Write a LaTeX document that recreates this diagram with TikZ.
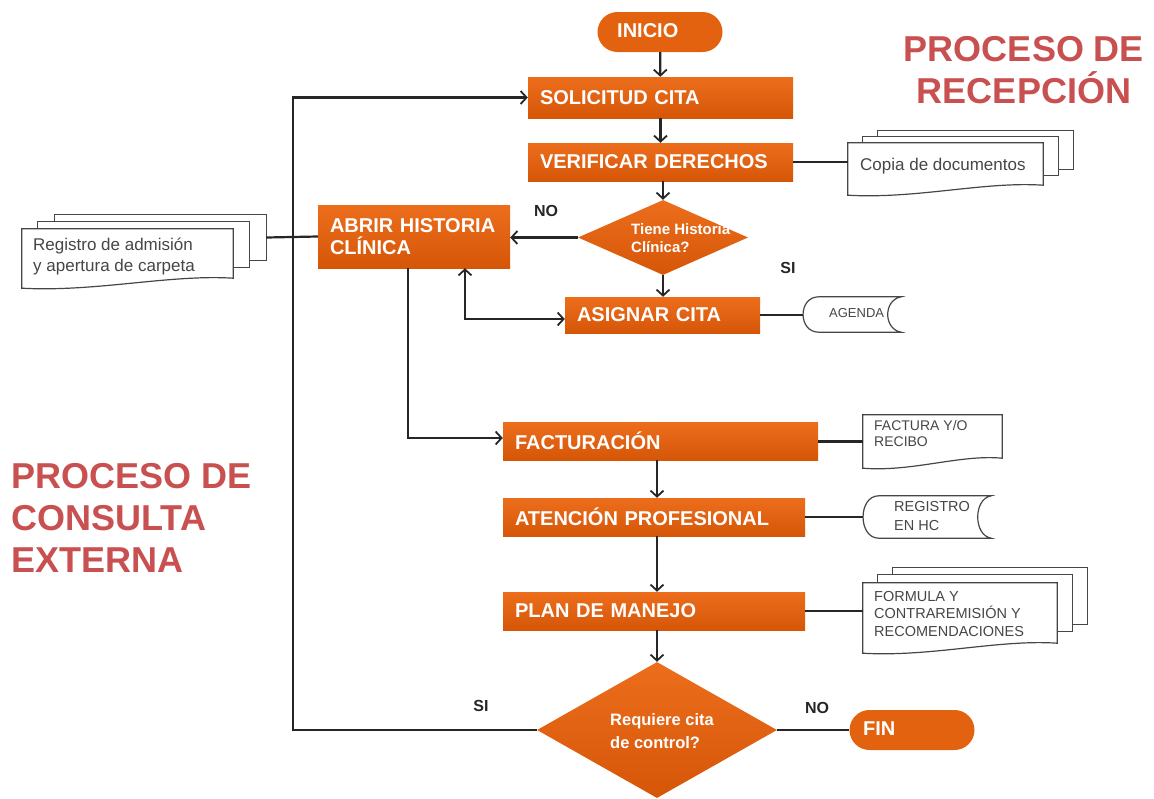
\documentclass[tikz,border=0pt]{standalone}
\usepackage{fontspec}
\setmainfont{Liberation Sans}
\usetikzlibrary{arrows.meta,shapes.geometric,shapes.misc,calc}
\definecolor{orng}{RGB}{226,98,16}
\definecolor{orngT}{RGB}{236,110,28}
\definecolor{orngB}{RGB}{214,86,8}
\definecolor{ttl}{RGB}{200,80,80}
\definecolor{docgray}{RGB}{70,70,70}
\tikzset{
  box/.style={rectangle, top color=orngT, bottom color=orngB, draw=none, text=white, font=\bfseries\fontsize{20}{22}\selectfont, inner xsep=12pt, inner ysep=0pt, align=left, anchor=center},
  term/.style={rounded rectangle, fill=orng, text=white, inner xsep=0pt, inner ysep=0pt, minimum width=125pt, minimum height=40pt},
  dia/.style={diamond, top color=orngT, bottom color=orngB, inner sep=0pt},
  diatext/.style={text=white, font=\bfseries, align=left, inner sep=0pt},
  conn/.style={line width=2.2pt, draw=black!85},
  tip/.tip={Straight Barb[length=6pt,width=13pt,line width=1.8pt]},
  arr/.style={conn, -tip},
  darr/.style={conn, tip-tip},
  docline/.style={draw=docgray, line width=1.2pt, fill=white},
  docarea/.style={rectangle, inner sep=0pt, draw=none},
  doctext/.style={text=docgray, align=left, inner sep=0pt, anchor=north west},
  lbl/.style={font=\bfseries\fontsize{16}{18}\selectfont, text=black!85},
  title/.style={text=ttl, font=\bfseries\fontsize{36}{42}\selectfont}
}
% document outline around node #1 (wavy bottom)
\newcommand\docout[1]{%
  \draw[docline] (#1.south west) -- (#1.north west) -- (#1.north east) -- ([yshift=10pt]#1.south east)
    .. controls ($(#1.south west)!0.7!(#1.south east)+(0pt,14pt)$) and ($(#1.south west)!0.35!(#1.south east)+(0pt,-4pt)$) .. (#1.south west) -- cycle;}
% back sheets of a multi document
\newcommand\docback[3]{%
  \draw[docline] ([xshift=#2pt,yshift=#3pt]#1.north west) rectangle ([xshift=#2pt,yshift=#3pt+14pt]#1.south east);}
% stored data outline
\newcommand\storeout[1]{%
  \draw[docline] ([xshift=16pt]#1.north west) -- ([xshift=6pt]#1.north east)
    .. controls ([xshift=-12pt,yshift=-3pt]#1.north east) and ([xshift=-12pt,yshift=3pt]#1.south east) .. ([xshift=6pt]#1.south east)
    -- ([xshift=16pt]#1.south west)
    .. controls ([xshift=-5pt]#1.south west) and ([xshift=-5pt]#1.north west) .. ([xshift=16pt]#1.north west) -- cycle;}
\begin{document}
\begin{tikzpicture}[x=1pt,y=-1pt]
\useasboundingbox (0,0) rectangle (1154,798);

% titles
\node[title, align=center] (t1) at (1024,70) {PROCESO DE\\RECEPCIÓN};
\node[title, align=left, anchor=west] (t2) at (8,518) {PROCESO DE\\CONSULTA\\EXTERNA};

% main flow nodes
\node[term] (inicio) at (660,32) {};
\node[diatext, anchor=west, font=\bfseries\fontsize{20}{22}\selectfont] (iniciot) at (617,31) {INICIO};
\node[box, minimum width=265pt, minimum height=41pt, text width=241pt] (sol) at (660.5,97.5) {SOLICITUD CITA};
\node[box, minimum width=265pt, minimum height=38pt, text width=241pt] (ver) at (660.5,162) {VERIFICAR DERECHOS};
\node[dia, minimum width=170pt, minimum height=75pt] (d1) at (663,237.5) {};
\node[diatext, anchor=west, font=\bfseries\fontsize{15}{18}\selectfont] (d1t) at (631,238) {Tiene Historia\\Clínica?};
\node[box, minimum width=192pt, minimum height=63pt, text width=168pt] (abrir) at (414,236.5) {ABRIR HISTORIA\\CLÍNICA};
\node[box, minimum width=195pt, minimum height=36pt, text width=171pt] (asig) at (662.5,315) {ASIGNAR CITA};
\node[box, minimum width=315pt, minimum height=38pt, text width=291pt] (fact) at (660.5,441) {FACTURACIÓN};
\node[box, minimum width=302pt, minimum height=38pt, text width=278pt] (aten) at (654,517) {ATENCIÓN PROFESIONAL};
\node[box, minimum width=302pt, minimum height=38pt, text width=278pt] (plan) at (654,611) {PLAN DE MANEJO};
\node[dia, minimum width=240pt, minimum height=136pt] (d2) at (657,730) {};
\node[diatext, anchor=west, font=\bfseries\fontsize{16.5}{23}\selectfont] (d2t) at (610,731) {Requiere cita\\de control?};
\node[term] (fin) at (912,730) {};
\node[diatext, anchor=west, font=\bfseries\fontsize{20}{22}\selectfont] (fint) at (863,729) {FIN};

% documents
\node[docarea, minimum width=195pt, minimum height=52pt] (copia) at (945.5,169) {};
\docback{copia}{30}{12}
\docback{copia}{15}{6}
\docout{copia}
\node[doctext, anchor=west, font=\fontsize{17}{20}\selectfont] (copiat) at (860,166) {Copia de documentos};

\node[docarea, minimum width=211pt, minimum height=59pt] (regadm) at (127.5,258.5) {};
\docback{regadm}{33}{14}
\docback{regadm}{16}{7}
\docout{regadm}
\node[doctext, font=\fontsize{17}{21}\selectfont] (regadmt) at (33,238) {Registro de admisión\\y apertura de carpeta};

\node[docarea, minimum width=92pt, minimum height=35pt] (agenda) at (849,314.5) {};
\storeout{agenda}
\node[doctext, anchor=west, font=\fontsize{13}{15}\selectfont] (agendat) at (829,313) {AGENDA};

\node[docarea, minimum width=139pt, minimum height=53pt] (factura) at (932.5,441.5) {};
\docout{factura}
\node[doctext, font=\fontsize{14}{16}\selectfont] (facturat) at (874,420) {FACTURA Y/O\\RECIBO};

\node[docarea, minimum width=122pt, minimum height=42pt] (reghc) at (924,517) {};
\storeout{reghc}
\node[doctext, font=\fontsize{14.5}{19}\selectfont] (reghct) at (894,501) {REGISTRO\\EN HC};

\node[docarea, minimum width=194pt, minimum height=70pt] (formula) at (960,618) {};
\docback{formula}{30}{15}
\docback{formula}{15}{8}
\docout{formula}
\node[doctext, font=\fontsize{14.5}{17.5}\selectfont] (formulat) at (874,591) {FORMULA Y\\CONTRAREMISIÓN Y\\RECOMENDACIONES};

% labels
\node[lbl] (no1) at (546,211) {NO};
\node[lbl] (si1) at (788,268) {SI};
\node[lbl] (si2) at (481,706) {SI};
\node[lbl] (no2) at (817,708) {NO};

% coordinates
\coordinate (lb) at (293,730);
\coordinate (lt) at (293,97.5);
\coordinate (cA) at (465,319);
\coordinate (cF) at (408,438);

% connectors
\draw[arr] (inicio) -- (sol);
\draw[arr] (sol) -- (ver);
\draw[arr] (ver.south -| d1) -- (d1.north);
\draw[arr] (d1.west) -- (d1.west -| abrir.east);
\draw[arr] (d1.south) -- (d1.south |- asig.north);
\draw[arr] (d2.west) -- (lb) -- (lt) -- (sol.west);
\draw[darr] (abrir.south -| cA) -- (cA) -- (cA -| asig.west);
\draw[arr] (abrir.south -| cF) -- (cF) -- (cF -| fact.west);
\draw[arr] (fact.south -| d2) -- (aten.north -| d2);
\draw[arr] (aten.south -| d2) -- (plan.north -| d2);
\draw[arr] (plan.south -| d2) -- (d2.north);
\draw[conn] (d2.east) -- (fin.west);
\draw[conn] (ver.east) -- (ver.east -| copia.west);
\draw[conn] ([xshift=33pt,yshift=-1pt]regadm.east |- abrir.west) -- (abrir.west);
\draw[conn] (asig.east) -- (asig.east -| agenda.west);
\draw[conn] (fact.east |- factura.west) -- (factura.west);
\draw[conn] (aten.east) -- (aten.east -| reghc.west);
\draw[conn] (plan.east) -- (plan.east -| formula.west);
\end{tikzpicture}
\end{document}
